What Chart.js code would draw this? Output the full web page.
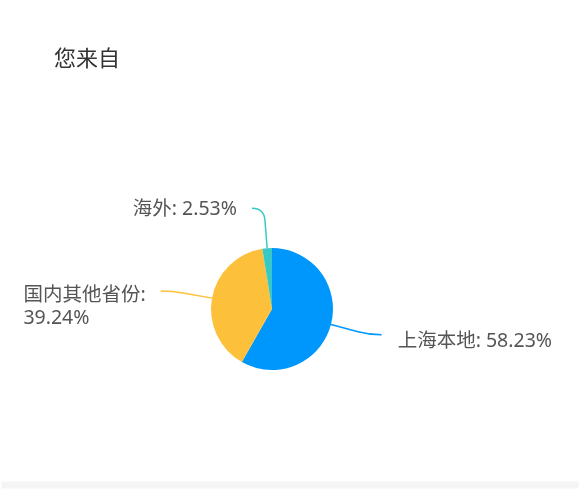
<!DOCTYPE html>
<html>
<head>
<meta charset="utf-8">
<script src="https://cdn.jsdelivr.net/npm/chart.js@4"></script>
<style>
  html, body { margin: 0; padding: 0; background: #fff; }
  #wrap { position: relative; width: 580px; height: 489px; overflow: hidden; }
  #title {
    position: absolute; left: 54px; top: 40px;
    font: 22px "Noto Sans CJK SC", sans-serif; color: #333;
  }
  #band {
    position: absolute; left: 1px; right: 1px; top: 481px; height: 6px;
    background: #f5f5f5; border: 1px solid #fafafa;
  }
  canvas { position: absolute; left: 0; top: 0; }
</style>
</head>
<body>
<div id="wrap">
  <canvas id="chart" width="580" height="489"></canvas>
  <div id="title">您来自</div>
  <div id="band"></div>
</div>
<script>
var categories = ['上海本地', '国内其他省份', '海外'];
var shares = [58.23, 39.24, 2.53];
var labelLines = [['上海本地: 58.23%'], ['国内其他省份:', '39.24%'], ['海外: 2.53%']];
var colors = ['#0097fc', '#fdc03b', '#38c9c6'];

// leader lines + outside labels, anchored on the arcs the chart drew
var pieLabels = {
  id: 'pieLabels',
  afterDatasetsDraw: function(chart) {
    var ctx = chart.ctx;
    var arcs = chart.getDatasetMeta(0).data;
    ctx.save();
    ctx.font = '19.5px "Noto Sans", "Noto Sans CJK SC", sans-serif';
    ctx.textBaseline = 'middle';
    ctx.textAlign = 'left';
    arcs.forEach(function(arc, i) {
      var mid = (arc.startAngle + arc.endAngle) / 2;
      var r = arc.outerRadius;
      var cx = arc.x, cy = arc.y;
      var cos = Math.cos(mid), sin = Math.sin(mid);
      var right = cos >= 0;
      var p0 = [cx + r * cos, cy + r * sin];
      var p1 = [cx + (r + 40) * cos, cy + (r + 40) * sin];
      var p2 = [p1[0] + (right ? 12 : -12), p1[1]];
      ctx.strokeStyle = colors[i];
      ctx.lineWidth = 1.5;
      ctx.beginPath();
      ctx.moveTo(p0[0], p0[1]);
      var k = 0.7;
      ctx.lineTo(p0[0] + (p1[0] - p0[0]) * k, p0[1] + (p1[1] - p0[1]) * k);
      ctx.quadraticCurveTo(p1[0], p1[1], p2[0], p2[1]);
      ctx.stroke();
      ctx.fillStyle = '#555';
      var lines = labelLines[i];
      var w = Math.max.apply(null, lines.map(function(t) { return ctx.measureText(t).width; }));
      var tx = right ? p2[0] + 16 : p2[0] - 15 - w;
      var ty = lines.length > 1 ? p2[1] + 4 : p2[1] + (sin > 0 ? 7 : 1);
      lines.forEach(function(t, j) {
        ctx.fillText(t, tx, ty + j * 23);
      });
    });
    ctx.restore();
  }
};

new Chart(document.getElementById('chart'), {
  type: 'pie',
  data: {
    labels: categories,
    datasets: [{
      data: shares,
      backgroundColor: colors,
      borderWidth: 0
    }]
  },
  options: {
    responsive: false,
    animation: false,
    layout: { padding: { left: 211, right: 247, top: 248, bottom: 119 } },
    plugins: {
      legend: { display: false },
      tooltip: { enabled: false }
    }
  },
  plugins: [pieLabels]
});
</script>
</body>
</html>
